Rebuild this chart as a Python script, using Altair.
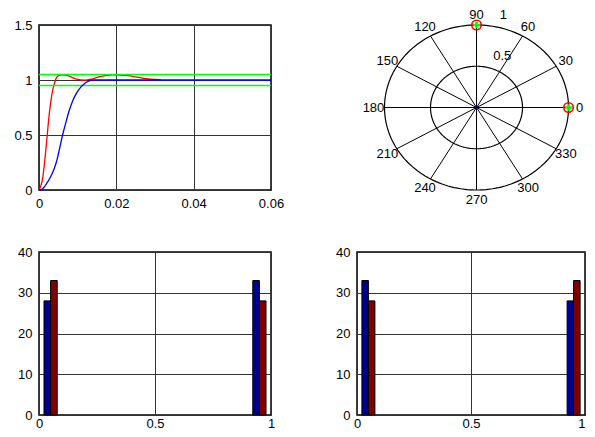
import altair as alt
import pandas as pd
import numpy as np

# ---------------- data ----------------
# top-left: step responses
red_t = [0, 0.0005, 0.001, 0.0015, 0.002, 0.0025, 0.003, 0.0035, 0.004, 0.0045, 0.005,
         0.0058, 0.0068, 0.0078, 0.0088, 0.0098, 0.0108, 0.012, 0.0132, 0.0145, 0.016,
         0.0175, 0.019, 0.021, 0.023, 0.025, 0.027, 0.029, 0.0315]
red_y = [0, 0.04, 0.12, 0.27, 0.45, 0.64, 0.79, 0.9, 0.97, 1.02, 1.04,
         1.046, 1.044, 1.035, 1.02, 1.007, 1.0, 0.999, 1.005, 1.018, 1.032,
         1.042, 1.046, 1.045, 1.04, 1.028, 1.015, 1.008, 1.003]
blue_t = [0, 0.0004, 0.0013, 0.002, 0.003, 0.004, 0.0047, 0.0054, 0.0061, 0.007, 0.0078,
          0.0087, 0.0097, 0.0108, 0.0119, 0.0128, 0.0138, 0.015, 0.06]
blue_y = [0, 0, 0.025, 0.06, 0.12, 0.2, 0.28, 0.39, 0.5, 0.62, 0.72,
          0.81, 0.88, 0.935, 0.97, 0.99, 1.0, 1.0, 1.0]
band_y = [0.95, 1.05]
tl_xticks = [0, 0.02, 0.04, 0.06]
tl_yticks = [0, 0.5, 1, 1.5]

# top-right: polar
ring_r = [0.5, 1.0]
spoke_deg = [0, 30, 60, 90, 120, 150, 180, 210, 240, 270, 300, 330]
spoke_lbl = ["0", "30", "60", "90", "120", "150", "180", "210", "240", "270", "300", "330"]
pts_r = [1, 1]
pts_deg = [0, 90]

# bottom: histograms
hist_bins = [0.05, 0.95]
bl_blue = [28, 33]
bl_red = [33, 28]
br_blue = [33, 28]
br_red = [28, 33]
hist_xticks = [0, 0.5, 1]
hist_yticks = [0, 10, 20, 30, 40]

# ---------------- style ----------------
W1, W2 = 232, 228
H1, H2 = 165, 163
FONT = "Liberation Sans"
FS = 13
GRID = "#333333"


def qaxis(values, pad, **kw):
    return alt.Axis(values=values, format="~r", title=None, ticks=False, domain=False,
                    grid=True, gridColor=GRID, gridWidth=1, gridOpacity=1,
                    labelFont=FONT, labelFontSize=FS, labelColor="black",
                    labelPadding=pad, labelFlush=False, labelOverlap=False, **kw)


# ---------------- top-left ----------------
df_red = pd.DataFrame({"t": red_t, "v": red_y})
df_blue = pd.DataFrame({"t": blue_t, "v": blue_y})
df_band = pd.DataFrame({"v": band_y})

xs = alt.Scale(domain=[0, 0.06], nice=False, zero=False)
ys = alt.Scale(domain=[0, 1.5], nice=False)

tl_red = alt.Chart(df_red).mark_line(color="#ff0000", strokeWidth=1.3, interpolate="monotone").encode(
    x=alt.X("t:Q", scale=xs, axis=qaxis(tl_xticks, 7)),
    y=alt.Y("v:Q", scale=ys, axis=qaxis(tl_yticks, 7)),
)
tl_band = alt.Chart(df_band).mark_rule(color="#00ff00", strokeWidth=1.5).encode(y="v:Q")
tl_blue = alt.Chart(df_blue).mark_line(color="#0000ff", strokeWidth=1.3, interpolate="monotone").encode(
    x="t:Q", y="v:Q")
tl = alt.layer(tl_red, tl_band, tl_blue).properties(width=W1, height=H1)

# ---------------- top-right (polar) ----------------
deg = np.arange(0, 361, 2)
df_rings = pd.DataFrame([(r, d) for r in ring_r for d in deg], columns=["r", "deg"])
df_spokes = pd.DataFrame({"deg": spoke_deg, "lbl": spoke_lbl})
df_rlab = pd.DataFrame({"r": ring_r, "lbl": ["0.5", "1"]})
df_pts = pd.DataFrame({"r": pts_r, "deg": pts_deg})

pxs = alt.Scale(domain=[-1.299, 1.179], nice=False, zero=False)
pys = alt.Scale(domain=[-1, 1], nice=False, zero=False)

rings = alt.Chart(df_rings).transform_calculate(
    px="datum.r*cos(datum.deg*PI/180)", py="datum.r*sin(datum.deg*PI/180)"
).mark_line(color="black", strokeWidth=1.2).encode(
    x=alt.X("px:Q", scale=pxs, axis=None),
    y=alt.Y("py:Q", scale=pys, axis=None),
    detail="r:N", order="deg:Q")

spokes = alt.Chart(df_spokes).transform_calculate(
    x0="0", y0="0",
    x1="cos(datum.deg*PI/180)", y1="sin(datum.deg*PI/180)"
).mark_rule(color="black", strokeWidth=1).encode(
    x="x0:Q", y="y0:Q", x2="x1:Q", y2="y1:Q")

alabels = alt.Chart(df_spokes).transform_calculate(
    lx="1.12*cos(datum.deg*PI/180)", ly="1.12*sin(datum.deg*PI/180)"
).mark_text(font=FONT, fontSize=FS, color="black", align="center", baseline="middle").encode(
    x="lx:Q", y="ly:Q", text="lbl:N")

rlabels = alt.Chart(df_rlab).transform_calculate(
    lx="(datum.r+0.025)*cos(82*PI/180)", ly="(datum.r+0.025)*sin(82*PI/180)"
).mark_text(font=FONT, fontSize=FS, color="black", align="left", baseline="middle",
            dx=10, dy=-9).encode(x="lx:Q", y="ly:Q", text="lbl:N")

pts_base = alt.Chart(df_pts).transform_calculate(
    px="datum.r*cos(datum.deg*PI/180)", py="datum.r*sin(datum.deg*PI/180)")
pts_red = pts_base.mark_point(shape="circle", filled=False, color="#ff0000", size=90,
                              strokeWidth=1.6, opacity=1).encode(x="px:Q", y="py:Q")
pts_green = pts_base.mark_point(shape="cross", filled=True, color="#00ff00", size=45,
                                opacity=1).encode(x="px:Q", y="py:Q")

center = alt.Chart(pd.DataFrame({"r": [0]})).mark_point(
    shape="circle", filled=True, color="#000080", size=8, opacity=1).encode(x="r:Q", y="r:Q")

tr = alt.layer(rings, spokes, alabels, rlabels, center, pts_red, pts_green).properties(
    width=W2, height=H1, view=alt.ViewBackground(strokeOpacity=0))


# ---------------- bottom histograms ----------------
def hist(blue, red, width, **xkw):
    df = pd.DataFrame({
        "bin": hist_bins * 2,
        "idx": [0] * len(hist_bins) + [1] * len(hist_bins),
        "n": list(blue) + list(red),
    })
    hx = alt.Scale(domain=[0, 1], nice=False, zero=False)
    hy = alt.Scale(domain=[0, 40], nice=False)
    return alt.Chart(df).transform_calculate(
        x0="datum.bin - 0.0285 + datum.idx*0.0285",
        x1="datum.bin + datum.idx*0.0285",
        y0="0",
    ).mark_rect(stroke="black", strokeWidth=1, opacity=1).encode(
        x=alt.X("x0:Q", scale=hx, axis=qaxis(hist_xticks, 2, **xkw)),
        x2="x1:Q",
        y=alt.Y("n:Q", scale=hy, axis=qaxis(hist_yticks, 7)),
        y2="y0:Q",
        color=alt.Color("idx:N", scale=alt.Scale(domain=[0, 1], range=["#00008f", "#800000"]),
                        legend=None),
    ).properties(width=width, height=H2)


bl = hist(bl_blue, bl_red, W1)
br = hist(br_blue, br_red, W2,
          labelAlign={"condition": {"test": "datum.value == 1", "value": "right"}, "value": "center"})

chart = alt.concat(
    tl, tr, bl, br, columns=2,
    spacing={"row": 62, "column": 86},
    bounds="flush",
    padding={"left": 5, "top": 0, "right": 0, "bottom": -2},
).configure_view(stroke="black", strokeWidth=1.5)

chart.save("out.html", embed_options={"renderer": "svg", "actions": False})
